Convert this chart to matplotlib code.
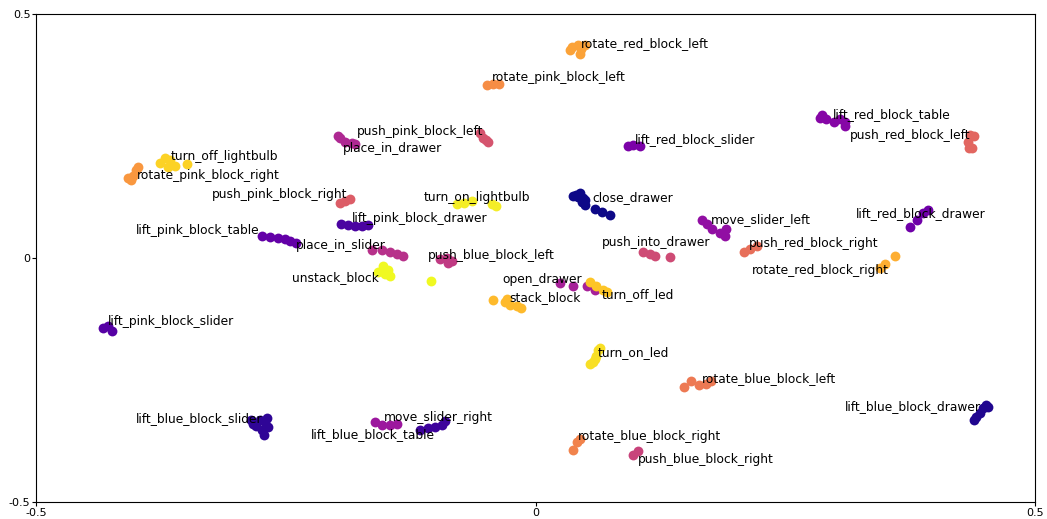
import matplotlib
matplotlib.use("Agg")
import matplotlib.pyplot as plt
import numpy as np

tasks = ["close_drawer", "lift_blue_block_drawer", "lift_blue_block_slider", "lift_blue_block_table",
         "lift_pink_block_drawer", "lift_pink_block_slider", "lift_pink_block_table", "lift_red_block_drawer",
         "lift_red_block_slider", "lift_red_block_table", "move_slider_left", "move_slider_right",
         "open_drawer", "place_in_drawer", "place_in_slider", "push_blue_block_left", "push_blue_block_right",
         "push_into_drawer", "push_pink_block_left", "push_pink_block_right", "push_red_block_left",
         "push_red_block_right", "rotate_blue_block_left", "rotate_blue_block_right", "rotate_pink_block_left",
         "rotate_pink_block_right", "rotate_red_block_left", "rotate_red_block_right", "stack_block",
         "turn_off_led", "turn_off_lightbulb", "turn_on_led", "turn_on_lightbulb", "unstack_block"]

pts_x = {
    "close_drawer": [0.041, 0.048, 0.043, 0.047, 0.050, 0.060, 0.067, 0.075, 0.038, 0.045, 0.050],
    "lift_blue_block_drawer": [0.441, 0.445, 0.448, 0.451, 0.453, 0.439],
    "lift_blue_block_slider": [-0.283, -0.276, -0.271, -0.274, -0.268, -0.280, -0.285, -0.269, -0.272],
    "lift_blue_block_table": [-0.116, -0.108, -0.101, -0.094, -0.091],
    "lift_pink_block_drawer": [-0.195, -0.188, -0.181, -0.174, -0.168],
    "lift_pink_block_slider": [-0.433, -0.428, -0.424],
    "lift_pink_block_table": [-0.274, -0.266, -0.258, -0.251, -0.246, -0.240],
    "lift_red_block_drawer": [0.375, 0.382, 0.388, 0.393],
    "lift_red_block_slider": [0.093, 0.098, 0.105],
    "lift_red_block_table": [0.287, 0.291, 0.299, 0.305, 0.310, 0.285, 0.310],
    "move_slider_left": [0.167, 0.172, 0.177, 0.185, 0.191, 0.190],
    "move_slider_right": [-0.161, -0.154, -0.146, -0.139],
    "open_drawer": [0.025, 0.038, 0.052, 0.060],
    "place_in_drawer": [-0.196, -0.191, -0.184, -0.198, -0.181],
    "place_in_slider": [-0.164, -0.154, -0.146, -0.139, -0.133],
    "push_blue_block_left": [-0.096, -0.089, -0.084, -0.088],
    "push_blue_block_right": [0.098, 0.103],
    "push_into_drawer": [0.108, 0.115, 0.120, 0.135],
    "push_pink_block_left": [-0.056, -0.053, -0.050, -0.048],
    "push_pink_block_right": [-0.196, -0.191, -0.186],
    "push_red_block_left": [0.435, 0.433, 0.434, 0.439, 0.437],
    "push_red_block_right": [0.209, 0.215, 0.222],
    "rotate_blue_block_left": [0.149, 0.156, 0.164, 0.171, 0.176],
    "rotate_blue_block_right": [0.038, 0.042, 0.045],
    "rotate_pink_block_left": [-0.049, -0.043, -0.037],
    "rotate_pink_block_right": [-0.408, -0.403, -0.400, -0.398, -0.405],
    "rotate_red_block_left": [0.037, 0.043, 0.046, 0.045, 0.035, 0.050],
    "rotate_red_block_right": [0.345, 0.350, 0.360],
    "stack_block": [-0.043, -0.031, -0.026, -0.019, -0.015, -0.029],
    "turn_off_led": [0.055, 0.061, 0.068, 0.072],
    "turn_off_lightbulb": [-0.376, -0.371, -0.366, -0.361, -0.368, -0.349],
    "turn_on_led": [0.058, 0.061, 0.063, 0.060, 0.065, 0.055],
    "turn_on_lightbulb": [-0.079, -0.072, -0.064, -0.044, -0.040],
    "unstack_block": [-0.158, -0.153, -0.148, -0.146, -0.151, -0.105],
}
pts_y = {
    "close_drawer": [0.129, 0.123, 0.125, 0.115, 0.109, 0.100, 0.094, 0.088, 0.127, 0.133, 0.119],
    "lift_blue_block_drawer": [-0.326, -0.318, -0.307, -0.301, -0.305, -0.332],
    "lift_blue_block_slider": [-0.340, -0.332, -0.336, -0.352, -0.346, -0.344, -0.332, -0.328, -0.363],
    "lift_blue_block_table": [-0.352, -0.348, -0.346, -0.342, -0.334],
    "lift_pink_block_drawer": [0.070, 0.068, 0.066, 0.066, 0.068],
    "lift_pink_block_slider": [-0.143, -0.139, -0.150],
    "lift_pink_block_table": [0.045, 0.043, 0.041, 0.039, 0.035, 0.031],
    "lift_red_block_drawer": [0.064, 0.078, 0.092, 0.098],
    "lift_red_block_slider": [0.230, 0.232, 0.230],
    "lift_red_block_table": [0.293, 0.285, 0.279, 0.285, 0.279, 0.287, 0.270],
    "move_slider_left": [0.078, 0.070, 0.059, 0.051, 0.059, 0.045],
    "move_slider_right": [-0.336, -0.342, -0.342, -0.340],
    "open_drawer": [-0.051, -0.057, -0.057, -0.066],
    "place_in_drawer": [0.246, 0.238, 0.236, 0.250, 0.234],
    "place_in_slider": [0.016, 0.016, 0.012, 0.008, 0.004],
    "push_blue_block_left": [-0.002, 0.000, -0.006, -0.010],
    "push_blue_block_right": [-0.404, -0.395],
    "push_into_drawer": [0.012, 0.008, 0.004, 0.002],
    "push_pink_block_left": [0.256, 0.246, 0.242, 0.238],
    "push_pink_block_right": [0.113, 0.117, 0.121],
    "push_red_block_left": [0.252, 0.238, 0.225, 0.250, 0.225],
    "push_red_block_right": [0.012, 0.018, 0.025],
    "rotate_blue_block_left": [-0.264, -0.252, -0.260, -0.258, -0.252],
    "rotate_blue_block_right": [-0.393, -0.377, -0.371],
    "rotate_pink_block_left": [0.355, 0.357, 0.357],
    "rotate_pink_block_right": [0.164, 0.168, 0.180, 0.186, 0.160],
    "rotate_red_block_left": [0.432, 0.436, 0.428, 0.418, 0.426, 0.436],
    "rotate_red_block_right": [-0.020, -0.012, 0.004],
    "stack_block": [-0.086, -0.090, -0.096, -0.098, -0.102, -0.084],
    "turn_off_led": [-0.049, -0.057, -0.066, -0.070],
    "turn_off_lightbulb": [0.195, 0.205, 0.201, 0.189, 0.186, 0.193],
    "turn_on_led": [-0.213, -0.201, -0.189, -0.207, -0.184, -0.217],
    "turn_on_lightbulb": [0.111, 0.113, 0.117, 0.111, 0.107],
    "unstack_block": [-0.029, -0.016, -0.025, -0.037, -0.033, -0.047],
}

label_x = {
    "close_drawer": 0.057, "lift_blue_block_drawer": 0.310, "lift_blue_block_slider": -0.400,
    "lift_blue_block_table": -0.225, "lift_pink_block_drawer": -0.184, "lift_pink_block_slider": -0.428,
    "lift_pink_block_table": -0.400, "lift_red_block_drawer": 0.321, "lift_red_block_slider": 0.099,
    "lift_red_block_table": 0.298, "move_slider_left": 0.176, "move_slider_right": -0.152,
    "open_drawer": -0.033, "place_in_drawer": -0.193, "place_in_slider": -0.240,
    "push_blue_block_left": -0.108, "push_blue_block_right": 0.102, "push_into_drawer": 0.066,
    "push_pink_block_left": -0.179, "push_pink_block_right": -0.324, "push_red_block_left": 0.315,
    "push_red_block_right": 0.214, "rotate_blue_block_left": 0.167, "rotate_blue_block_right": 0.042,
    "rotate_pink_block_left": -0.044, "rotate_pink_block_right": -0.399, "rotate_red_block_left": 0.045,
    "rotate_red_block_right": 0.217, "stack_block": -0.026, "turn_off_led": 0.066,
    "turn_off_lightbulb": -0.365, "turn_on_led": 0.062, "turn_on_lightbulb": -0.112,
    "unstack_block": -0.244,
}
label_y = {
    "close_drawer": 0.123, "lift_blue_block_drawer": -0.305, "lift_blue_block_slider": -0.328,
    "lift_blue_block_table": -0.361, "lift_pink_block_drawer": 0.080, "lift_pink_block_slider": -0.131,
    "lift_pink_block_table": 0.057, "lift_red_block_drawer": 0.092, "lift_red_block_slider": 0.242,
    "lift_red_block_table": 0.295, "move_slider_left": 0.078, "move_slider_right": -0.326,
    "open_drawer": -0.045, "place_in_drawer": 0.225, "place_in_slider": 0.025,
    "push_blue_block_left": 0.006, "push_blue_block_right": -0.412, "push_into_drawer": 0.031,
    "push_pink_block_left": 0.260, "push_pink_block_right": 0.131, "push_red_block_left": 0.250,
    "push_red_block_right": 0.029, "rotate_blue_block_left": -0.248, "rotate_blue_block_right": -0.365,
    "rotate_pink_block_left": 0.369, "rotate_pink_block_right": 0.170, "rotate_red_block_left": 0.439,
    "rotate_red_block_right": -0.025, "stack_block": -0.080, "turn_off_led": -0.074,
    "turn_off_lightbulb": 0.207, "turn_on_led": -0.193, "turn_on_lightbulb": 0.123,
    "unstack_block": -0.039,
}

tick_vals = [-0.5, 0, 0.5]
tick_labels = ["-0.5", "0", "0.5"]

fig = plt.figure(figsize=(10.47, 5.19), dpi=100)
ax = fig.add_axes([36 / 1047, 17 / 519, 999 / 1047, 488 / 519])
cmap = plt.get_cmap("plasma")
n = len(tasks)
for i, t in enumerate(tasks):
    ax.scatter(pts_x[t], pts_y[t], s=50, color=cmap(i / (n - 1)), linewidths=0, zorder=2)
for t in tasks:
    ax.text(label_x[t], label_y[t], t, fontsize=8.8, ha="left", va="center", color="black", zorder=3)

ax.set_xlim(-0.5, 0.5)
ax.set_ylim(-0.5, 0.5)
ax.set_xticks(tick_vals)
ax.set_xticklabels(tick_labels, fontsize=8)
ax.set_yticks(tick_vals)
ax.set_yticklabels(tick_labels, fontsize=8)
ax.tick_params(length=3, pad=1)
fig.savefig("out.png", dpi=100)
